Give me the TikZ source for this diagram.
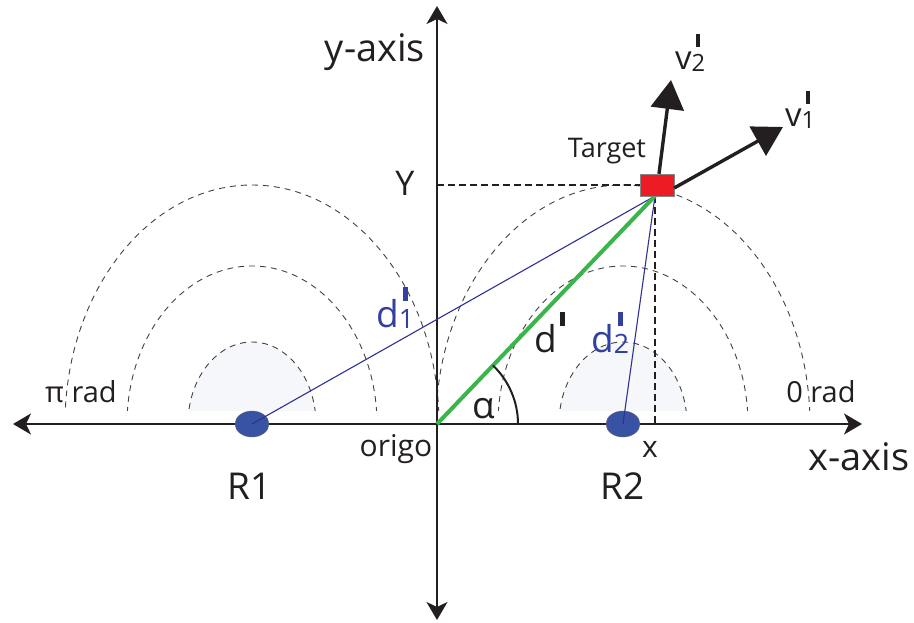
\documentclass[tikz,border=0pt]{standalone}
\usepackage{fontspec}
\setmainfont{Open Sans}
\usepackage{graphicx}
\usetikzlibrary{arrows.meta, shapes.geometric}

\definecolor{ink}{RGB}{35,31,32}
\definecolor{sensorblue}{RGB}{57,83,164}
\definecolor{lineblue}{RGB}{46,49,146}
\definecolor{labelblue}{RGB}{52,64,160}
\definecolor{targetred}{RGB}{237,28,36}
\definecolor{dgreen}{RGB}{57,181,74}
\definecolor{zonefill}{RGB}{245,247,250}

\newcommand{\fs}[1]{\fontsize{#1}{#1}\selectfont}
\newcommand{\prm}{\raisebox{0.7em}{\rule{0.14em}{0.38em}}}
\newcommand{\sublbl}[2]{#1\rlap{\raisebox{-0.05em}{\scalebox{0.72}{#2}}}\hspace{0.12em}\prm\hspace{0.16em}}

\begin{document}
\begin{tikzpicture}[x=1pt, y=1pt,
  axis/.style={draw=ink, line width=2pt},
  zone/.style={draw=ink!85, dash pattern=on 6pt off 5pt, line width=0.9pt},
  guide/.style={draw=ink, line width=2.2pt, dash pattern=on 7pt off 4pt},
  sensor/.style={ellipse, draw=ink!70, fill=sensorblue, minimum width=34pt, minimum height=26pt, inner sep=0pt},
  distline/.style={draw=lineblue, line width=1.1pt},
  velo/.style={draw=ink, line width=3.4pt, -{Triangle[length=29pt, width=33pt]}},
  lbl/.style={text=ink, inner sep=0pt}]

\useasboundingbox (-437,-198) rectangle (477,424);

% Zones round the two sensors
\begin{scope}
  \clip (-437,14) rectangle (477,424);
  \foreach \cx in {-185, 186} {
    \fill[zonefill] (\cx,0) ellipse (64 and 82);
    \draw[zone] (\cx,0) ellipse (64 and 82);
    \draw[zone] (\cx,0) ellipse (125 and 158);
    \draw[zone] (\cx,0) ellipse (187 and 239);
  }
\end{scope}

% Points
\coordinate (o) at (0,0);
\coordinate (tp) at (218,228);
\coordinate (yq) at (0,239);
\coordinate (xq) at (218,0);
\coordinate (xl) at (-424,0);
\coordinate (xr) at (425,0);
\coordinate (yt) at (0,418);
\coordinate (yb) at (0,-196);
\coordinate (v1e) at (346,297);
\coordinate (v2e) at (234,344);

% Dashed projections of the target
\draw[guide] (yq) -- (207,239);
\draw[guide] (tp) -- (xq);

% Axes
\draw[axis, {Stealth[length=18pt, width=21pt, inset=5pt]}-{Stealth[length=18pt, width=21pt, inset=5pt]}] (xl) -- (xr);
\draw[axis, {Stealth[length=18pt, width=21pt, inset=5pt]}-{Stealth[length=18pt, width=21pt, inset=5pt]}] (yb) -- (yt);

% Sensors
\node[sensor] (r1) at (-185,0) {};
\node[sensor] (r2) at (186,0) {};

% Distances
\draw[distline] (r1.center) -- (tp);
\draw[distline] (r2.center) -- (tp);
\draw[draw=dgreen, line width=4pt] (o) -- (tp);

% Angle alpha
\draw[ink, line width=2pt] (81,0) arc (0:46.3:81);

% Target and velocities
\node[draw=ink!55, fill=targetred, minimum width=34pt, minimum height=22pt, inner sep=0pt] (tgt) at (220,239) {};
\draw[velo] ([xshift=2pt]tgt.north) -- (v2e);
\draw[velo] ([yshift=-3pt]tgt.east) -- (v1e);

% Labels
\node[lbl, font=\fs{38}, anchor=base] (ylab) at (-62,362) {y-axis};
\node[lbl, font=\fs{38}, anchor=base] (xlab) at (422,-46) {x-axis};
\node[lbl, font=\fs{34}, anchor=base] (ytick) at (-32,229) {Y};
\node[lbl, font=\fs{30}, anchor=base] (xtick) at (213,-33) {x};
\node[lbl, font=\fs{30}, anchor=base] (origo) at (-41,-32) {origo};
\node[lbl, font=\fs{37}, anchor=base] (r1lab) at (-187,-75) {R1};
\node[lbl, font=\fs{37}, anchor=base] (r2lab) at (186,-75) {R2};
\node[lbl, font=\fs{29}, anchor=base] (pirad) at (-356,22) {π rad};
\node[lbl, font=\fs{29}, anchor=base] (zerorad) at (384,22) {0 rad};
\node[lbl, font=\fs{27}, anchor=base] (tlab) at (170,266) {Target};
\node[lbl, font=\fs{37}, anchor=base] (alab) at (47,6) {α};
\node[lbl, font=\fs{37}, anchor=base west] (dlab) at (97,72) {d\hspace{0.08em}\prm};
\node[lbl, font=\fs{37}, anchor=base west, text=labelblue] (d1lab) at (-61,97) {\sublbl{d}{1}};
\node[lbl, font=\fs{37}, anchor=base west, text=labelblue] (d2lab) at (154,72) {\sublbl{d}{2}};
\node[lbl, font=\fs{33}, anchor=base west] (v2lab) at (238,354) {\sublbl{v}{2}};
\node[lbl, font=\fs{33}, anchor=base west] (v1lab) at (348,297) {\sublbl{v}{1}};

\end{tikzpicture}
\end{document}
